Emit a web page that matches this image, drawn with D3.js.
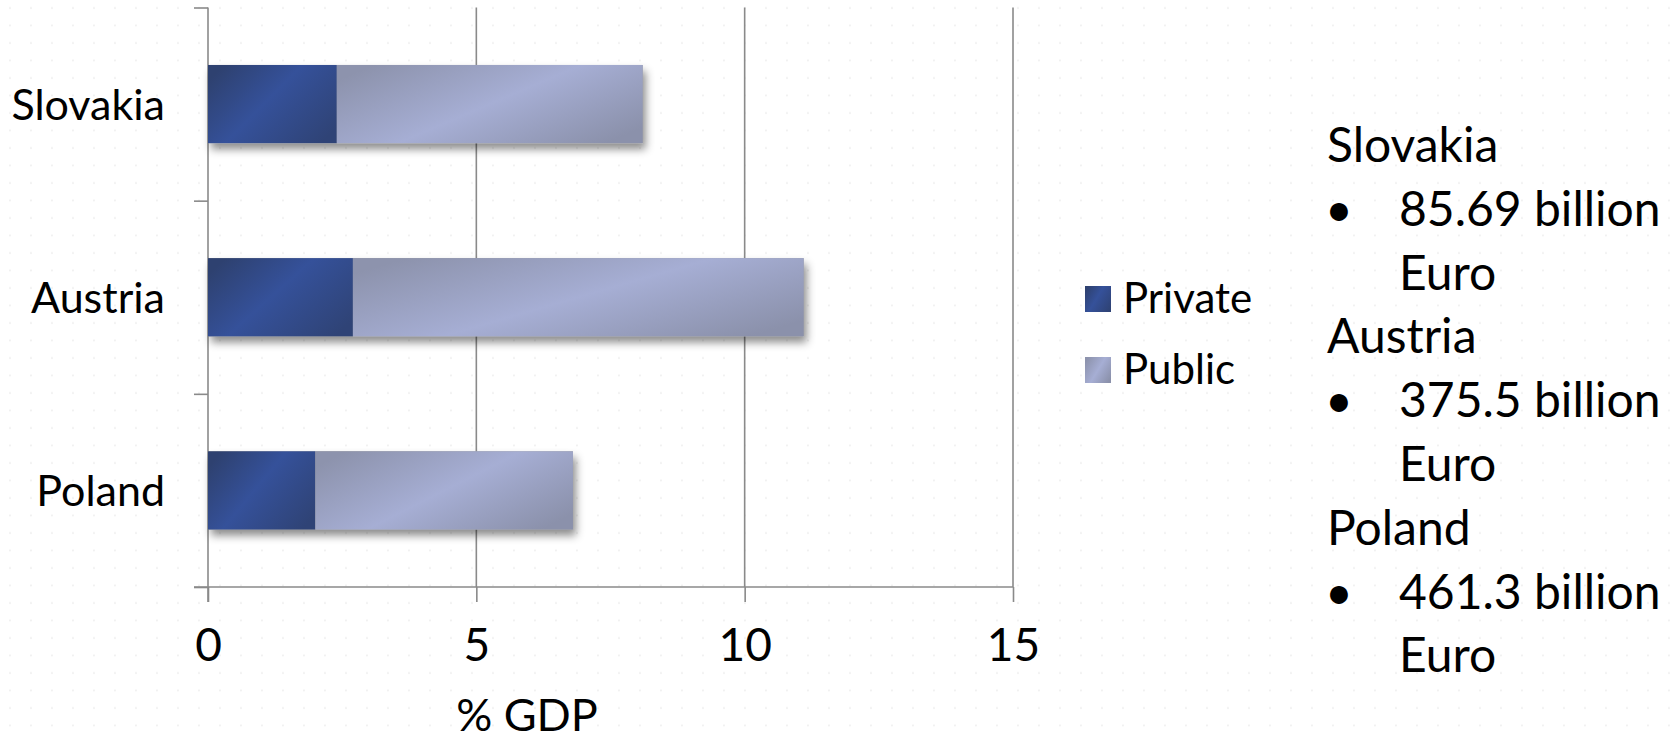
<!DOCTYPE html>
<html>
<head>
<meta charset="utf-8">
<script src="https://cdn.jsdelivr.net/npm/d3@7"></script>
<style>
  html, body { margin: 0; padding: 0; background: #ffffff; }
  svg { display: block; }
  text { font-family: Lato, "Noto Sans", sans-serif; fill: #000; }
</style>
</head>
<body>
<div id="chart"></div>
<script>
// ---- data ----
const categories = ["Slovakia", "Austria", "Poland"];
const seriesNames = ["Private", "Public"];
const privateValues = [2.4, 2.7, 2.0];
const publicValues = [5.7, 8.4, 4.8];
const xTicks = [0, 5, 10, 15];
const xTitle = "% GDP";
const gdpNotes = ["85.69 billion", "375.5 billion", "461.3 billion"];
const gdpUnit = "Euro";

// ---- layout ----
const W = 1675, H = 741;
const svg = d3.select("#chart").append("svg").attr("width", W).attr("height", H);
const defs = svg.append("defs");

// faint dotted background
const pat = defs.append("pattern").attr("id", "dots").attr("patternUnits", "userSpaceOnUse")
  .attr("width", 21).attr("height", 17.5);
pat.append("circle").attr("cx", 10).attr("cy", 8).attr("r", 0.9).attr("fill", "#ececec");
svg.append("rect").attr("width", W).attr("height", H).attr("fill", "url(#dots)");

// gradients
function grad(id, stops) {
  const g = defs.append("linearGradient").attr("id", id)
    .attr("x1", 0).attr("y1", 0.2).attr("x2", 1).attr("y2", 0.8);
  stops.forEach(s => g.append("stop").attr("offset", s[0]).attr("stop-color", s[1]));
}
grad("gPrivate", [[0, "#2e4170"], [0.45, "#35519a"], [1, "#2f4376"]]);
grad("gPublic", [[0, "#8d93ad"], [0.5, "#a6aed4"], [1, "#8b91ab"]]);
const fills = {Private: "url(#gPrivate)", Public: "url(#gPublic)"};

const shadow = defs.append("filter").attr("id", "shadow")
  .attr("x", "-10%").attr("y", "-20%").attr("width", "130%").attr("height", "160%");
shadow.append("feDropShadow").attr("dx", 3).attr("dy", 6).attr("stdDeviation", 4)
  .attr("flood-color", "#000").attr("flood-opacity", 0.45);

const x = d3.scaleLinear().domain([0, 15]).range([208, 1013]);
const yTop = 7.5, yBot = 587;
const y = d3.scaleBand().domain(categories).range([yTop, yBot])
  .paddingInner(0.595).paddingOuter(0.2975);
const yIdx = d3.scaleLinear().domain([0, categories.length]).range([yTop, yBot]);

const axisColor = "#8a8a8a";

// vertical gridlines
svg.append("g").selectAll("line").data(xTicks.filter(t => t > 0)).join("line")
  .attr("x1", d => x(d)).attr("x2", d => x(d))
  .attr("y1", yTop).attr("y2", yBot)
  .attr("stroke", axisColor).attr("stroke-width", 1.6);

// x axis
const xAxis = svg.append("g").attr("transform", `translate(0,${yBot})`)
  .call(d3.axisBottom(x).tickValues(xTicks).tickSize(15).tickSizeOuter(0).tickPadding(26));
xAxis.select(".domain").remove();
xAxis.selectAll(".tick line").attr("stroke", axisColor).attr("stroke-width", 1.6);
xAxis.selectAll(".tick text").attr("font-size", 46).attr("font-family", "Lato").attr("fill", "#000")
  .attr("dy", "0.71em");
svg.append("line").attr("x1", 194).attr("x2", x(15)).attr("y1", yBot).attr("y2", yBot)
  .attr("stroke", axisColor).attr("stroke-width", 1.6);

// y axis (ticks at category boundaries)
const yAxis = svg.append("g").attr("transform", `translate(${x(0)},0)`)
  .call(d3.axisLeft(yIdx).ticks(categories.length).tickFormat("").tickSize(14).tickSizeOuter(0));
yAxis.select(".domain").remove();
yAxis.selectAll(".tick line").attr("stroke", axisColor).attr("stroke-width", 1.6);
svg.append("line").attr("x1", x(0)).attr("x2", x(0)).attr("y1", yTop).attr("y2", yBot + 15)
  .attr("stroke", axisColor).attr("stroke-width", 1.6);

// category labels
svg.append("g").selectAll("text").data(categories).join("text")
  .attr("x", 165).attr("y", d => y(d) + y.bandwidth() / 2 + 16)
  .attr("text-anchor", "end").attr("font-size", 43).text(d => d);

// stacked bars
const rows = categories.map((c, i) => ({cat: c, Private: privateValues[i], Public: publicValues[i]}));
const stacked = d3.stack().keys(seriesNames)(rows);
const barG = svg.append("g");
barG.selectAll("rect.sh").data(rows).join("rect").attr("class", "sh")
  .attr("x", x(0)).attr("y", d => y(d.cat))
  .attr("width", d => x(d.Private + d.Public) - x(0)).attr("height", y.bandwidth())
  .attr("fill", "#999").attr("filter", "url(#shadow)");
stacked.forEach(s => {
  barG.append("g").selectAll("rect").data(s).join("rect")
    .attr("x", d => x(d[0])).attr("y", d => y(d.data.cat))
    .attr("width", d => x(d[1]) - x(d[0])).attr("height", y.bandwidth())
    .attr("fill", fills[s.key]);
});

// x title
svg.append("text").attr("x", 527).attr("y", 731).attr("text-anchor", "middle")
  .attr("font-size", 45).text(xTitle);

// legend
const lg = svg.append("g");
seriesNames.forEach((s, i) => {
  const ly = 286 + i * 71;
  lg.append("rect").attr("x", 1085).attr("y", ly).attr("width", 26).attr("height", 26)
    .attr("fill", fills[s]);
  lg.append("text").attr("x", 1123).attr("y", ly + 27).attr("font-size", 42).text(s);
});

// right notes
const notes = svg.append("g");
const pitch = 63.8, base = 162;
categories.forEach((c, i) => {
  const b0 = base + i * 3 * pitch;
  notes.append("text").attr("x", 1327).attr("y", b0).attr("font-size", 48).text(c);
  notes.append("text").attr("x", 1325).attr("y", b0 + pitch).attr("font-size", 48).text("\u2022");
  notes.append("text").attr("x", 1399).attr("y", b0 + pitch).attr("font-size", 48).text(gdpNotes[i]);
  notes.append("text").attr("x", 1399).attr("y", b0 + 2 * pitch).attr("font-size", 48).text(gdpUnit);
});
</script>
</body>
</html>
